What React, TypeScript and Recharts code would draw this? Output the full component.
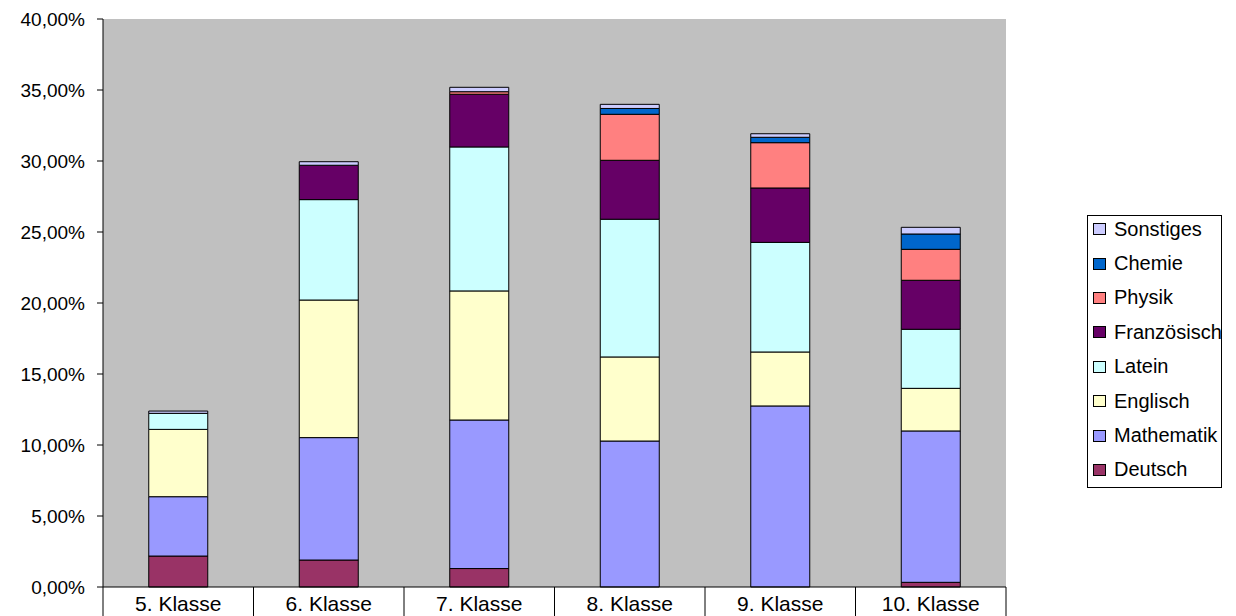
import React from 'react';
import { Bar, BarChart, CartesianGrid, XAxis, YAxis } from 'recharts';

// Anteile pro Klassenstufe, gestapelt nach Fach (Werte in Prozent)
const categories = ['5. Klasse', '6. Klasse', '7. Klasse', '8. Klasse', '9. Klasse', '10. Klasse'];
const subjects = ['Deutsch', 'Mathematik', 'Englisch', 'Latein', 'Französisch', 'Physik', 'Chemie', 'Sonstiges'];
const colors = ['#993366', '#9999FF', '#FFFFCC', '#CCFFFF', '#660066', '#FF8080', '#0066CC', '#CCCCFF'];

const deutsch = [2.18, 1.9, 1.3, 0, 0, 0.33];
const mathematik = [4.18, 8.62, 10.46, 10.28, 12.75, 10.66];
const englisch = [4.74, 9.69, 9.09, 5.92, 3.8, 3.0];
const latein = [1.13, 7.07, 10.14, 9.7, 7.72, 4.16];
const franzoesisch = [0, 2.42, 3.71, 4.15, 3.83, 3.45];
const physik = [0, 0, 0.18, 3.24, 3.19, 2.18];
const chemie = [0, 0, 0, 0.41, 0.38, 1.08];
const sonstiges = [0.16, 0.25, 0.31, 0.29, 0.25, 0.47];

const yTicks = [0, 5, 10, 15, 20, 25, 30, 35, 40];

const series = [deutsch, mathematik, englisch, latein, franzoesisch, physik, chemie, sonstiges];
const data = categories.map((name, i) => {
  const row: Record<string, string | number> = { name };
  subjects.forEach((s, k) => (row[s] = series[k][i]));
  return row;
});

const FONT = '"Liberation Sans", Arial, sans-serif';
const fmtPct = (v: number) => v.toFixed(2).replace('.', ',') + '%';

// Kategorie-Beschriftung + Trennstriche zwischen den Klassen (wie Excel)
function CatTick(props: any) {
  const { x, y, payload, index } = props;
  const half = payload.offset || 0;
  const last = index === categories.length - 1;
  return (
    <g>
      <line x1={x - half} x2={x - half} y1={y} y2={y + 29} stroke="#000" />
      {last && <line x1={x + half} x2={x + half} y1={y} y2={y + 29} stroke="#000" />}
      <text x={x} y={y + 24} textAnchor="middle" fontSize={21} fontFamily={FONT} fill="#000">
        {payload.value}
      </text>
    </g>
  );
}

export default function App() {
  return (
    <div style={{ position: 'absolute', left: 0, top: 0, width: 1236, height: 616, background: '#fff', fontFamily: FONT }}>
      <BarChart width={1236} height={616} data={data} margin={{ top: 19, right: 230, bottom: 0, left: 0 }} barCategoryGap="30.4%">
        <CartesianGrid horizontal={false} vertical={false} fill="#C0C0C0" />
        <XAxis
          dataKey="name"
          height={29}
          tickLine={false}
          tickSize={0}
          tickMargin={0}
          axisLine={{ stroke: '#000' }}
          tick={<CatTick />}
          interval={0}
        />
        <YAxis
          width={103}
          domain={[0, 40]}
          ticks={yTicks}
          tickFormatter={fmtPct}
          tickSize={6}
          tickMargin={12}
          axisLine={{ stroke: '#000' }}
          tickLine={{ stroke: '#000' }}
          tick={{ fontSize: 19, fill: '#000', fontFamily: FONT }}
          interval={0}
        />
        {subjects.map((s, k) => (
          <Bar key={s} dataKey={s} stackId="a" fill={colors[k]} stroke="#000" strokeWidth={1} isAnimationActive={false} />
        ))}
      </BarChart>
      <div
        style={{
          position: 'absolute',
          left: 1087,
          top: 215,
          width: 135,
          height: 273,
          border: '1px solid #000',
          boxSizing: 'border-box',
          padding: '0 0 0 5px',
        }}
      >
        <div style={{ marginTop: -4 }}>
          {subjects
            .map((s, k) => ({ s, c: colors[k] }))
            .reverse()
            .map(({ s, c }) => (
              <div key={s} style={{ display: 'flex', alignItems: 'center', height: 34.4, fontSize: 20, color: '#000', whiteSpace: 'nowrap' }}>
                <span style={{ width: 11, height: 10, background: c, border: '1px solid #000', marginRight: 8, flex: 'none' }} />
                {s}
              </div>
            ))}
        </div>
      </div>
    </div>
  );
}
